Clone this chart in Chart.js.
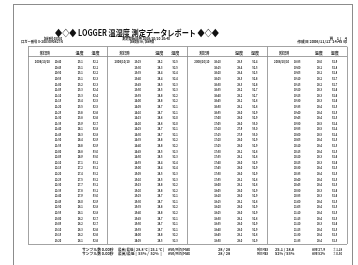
<!DOCTYPE html>
<html>
<head>
<meta charset="utf-8">
<script src="https://cdn.jsdelivr.net/npm/chart.js@4"></script>
<style>
  html, body { margin: 0; padding: 0; background: #fff; }
  #page { position: absolute; left: 0; top: 0; width: 358px; height: 265px; }
  #frame { position: absolute; left: 13px; top: 4px; width: 338px; height: 270px;
           border: 1px solid #8c8c8c; border-bottom: none; }
  canvas { position: absolute; left: 0; top: 0; }
</style>
</head>
<body>
<div id="page">
  <div id="frame"></div>
  <canvas id="report" width="358" height="265"></canvas>
</div>
<script>
// report data (one block of 33 readings per table column group)
var dateLabel = "2006/10/10";
var headerLabels = ["測定日時", "温度", "湿度"];

var times1 = ["10:40","10:45","10:50","10:55","11:00","11:05","11:10","11:15","11:20","11:25","11:30","11:35","11:40","11:45","11:50","11:55","12:00","12:05","12:10","12:15","12:20","12:25","12:30","12:35","12:40","12:45","12:50","12:55","13:00","13:05","13:10","13:15","13:20"];
var times2 = ["13:25","13:30","13:35","13:40","13:45","13:50","13:55","14:00","14:05","14:10","14:15","14:20","14:25","14:30","14:35","14:40","14:45","14:50","14:55","15:00","15:05","15:10","15:15","15:20","15:25","15:30","15:35","15:40","15:45","15:50","15:55","16:00","16:05"];
var times3 = ["16:10","16:15","16:20","16:25","16:30","16:35","16:40","16:45","16:50","16:55","17:00","17:05","17:10","17:15","17:20","17:25","17:30","17:35","17:40","17:45","17:50","17:55","18:00","18:05","18:10","18:15","18:20","18:25","18:30","18:35","18:40","18:45","18:50"];
var times4 = ["18:55","19:00","19:05","19:10","19:15","19:20","19:25","19:30","19:35","19:40","19:45","19:50","19:55","20:00","20:05","20:10","20:15","20:20","20:25","20:30","20:35","20:40","20:45","20:50","20:55","21:00","21:05","21:10","21:15","21:20","21:25","21:30","21:35"];

var temp1 = [25.1,25.1,25.1,25.1,25.2,25.3,25.3,25.4,25.5,25.6,25.8,25.9,26.1,26.3,26.4,26.6,26.8,26.9,27.1,27.2,27.4,27.5,27.7,27.8,27.9,28.0,28.1,28.1,28.2,28.2,28.3,28.2,28.1];
var temp2 = [28.2,28.3,28.4,28.4,28.5,28.5,28.6,28.6,28.7,28.7,28.8,28.8,28.7,28.7,28.6,28.6,28.5,28.5,28.4,28.4,28.5,28.5,28.6,28.6,28.7,28.7,28.6,28.6,28.7,28.7,28.7,28.6,28.5];
var temp3 = [28.5,28.4,28.4,28.3,28.3,28.2,28.2,28.1,28.1,28.0,28.0,28.0,27.9,27.9,28.0,28.0,28.1,28.1,28.0,28.0,28.0,28.1,28.1,28.0,28.0,28.1,28.0,28.0,28.1,28.0,28.0,28.1,28.0];
var temp4 = [28.0,28.1,28.1,28.2,28.2,28.3,28.3,28.3,28.4,28.4,28.4,28.5,28.5,28.5,28.4,28.4,28.4,28.3,28.3,28.4,28.4,28.4,28.4,28.3,28.3,28.4,28.4,28.4,28.4,28.3,28.4,28.4,28.4];

var hum1 = [52.1,52.1,52.2,52.3,52.3,52.4,52.4,52.5,52.5,52.6,52.6,52.7,52.8,52.8,52.9,52.9,53.0,53.0,53.1,53.1,53.2,53.2,53.1,53.1,53.0,52.9,52.8,52.8,52.7,52.7,52.6,52.6,52.6];
var hum2 = [52.5,52.5,52.4,52.4,52.3,52.3,52.2,52.2,52.1,52.1,52.0,52.0,52.1,52.1,52.2,52.2,52.3,52.3,52.4,52.4,52.3,52.3,52.2,52.2,52.1,52.1,52.2,52.2,52.1,52.1,52.1,52.2,52.3];
var hum3 = [52.4,52.5,52.5,52.6,52.6,52.7,52.7,52.8,52.8,52.9,52.9,53.0,53.0,53.0,52.9,52.9,52.8,52.8,52.9,52.9,52.9,52.8,52.8,52.9,52.9,52.8,52.9,52.9,52.8,52.9,52.9,52.8,52.9];
var hum4 = [52.9,52.8,52.8,52.7,52.7,52.6,52.6,52.6,52.5,52.5,52.5,52.4,52.4,52.4,52.5,52.5,52.5,52.6,52.6,52.5,52.5,52.5,52.5,52.6,52.6,52.5,52.5,52.5,52.5,52.6,52.5,52.5,52.5];

var titleText = "◆◇◆ LOGGER 温湿度 測定データレポート ◆◇◆";
var infoLeft = ["記録番号 000000", "ロガー番号 X-2003090827N"];
var infoMid = ["測定開始日時 2006/10/10 10:40", "記録間隔 5分 / 記録時間"];
var infoRight = ["頁    1 /    4", "作成日 2006/11/12  14:45 印"];
var footer1 = ["サンプル数 0.00秒", "最高/最低 | 28.8 ℃ | 25.1 ℃ |", "Ave/Min/Max", "28 / 28", "Min Max", "25.1 / 28.8", "Ave 27.9", "± 1.18"];
var footer2 = ["サンプル数 0.00秒", "最高/最低 |  53% /  52%  |", "Ave/Min/Max", "28 / 28", "Min Max", "52% / 53%", "Ave 52%", "± 0.30"];

var times = [times1, times2, times3, times4];
var temps = [temp1, temp2, temp3, temp4];
var hums = [hum1, hum2, hum3, hum4];

// column position inside a group (in group units)
var colOffset = { date: 0.18, time: 0.375, temp: 0.655, hum: 0.845 };
var headOffset = [0.21, 0.645, 0.845];
var headRow = -1.55;

function build_datasets() {
    var datasets = [];
    for (let g = 0; g < 4; g++) {
        var timePts = [], tempPts = [], humPts = [];
        var timeTxt = [], tempTxt = [], humTxt = [];
        for (let r = 0; r < times[g].length; r++) {
            timePts.push({ x: g + colOffset.time, y: r });
            tempPts.push({ x: g + colOffset.temp, y: r });
            humPts.push({ x: g + colOffset.hum, y: r });
            timeTxt.push(times[g][r]);
            tempTxt.push(temps[g][r].toFixed(1));
            humTxt.push(hums[g][r].toFixed(1));
        }
        datasets.push({ data: [{ x: g + colOffset.date, y: 0 }], cellText: [dateLabel], maxW: 15 });
        datasets.push({ data: timePts, cellText: timeTxt, maxW: 6.5 });
        datasets.push({ data: tempPts, cellText: tempTxt, maxW: 5.2 });
        datasets.push({ data: humPts, cellText: humTxt, maxW: 5.2 });
        // header row
        datasets.push({
            data: headOffset.map(o => ({ x: g + o, y: headRow })),
            cellText: headerLabels, maxW: 10
        });
    }
    datasets.forEach(ds => { ds.pointRadius = 0; ds.showLine = false; });
    return datasets;
}

const cellTextPlugin = {
    id: "cellText",
    afterDatasetsDraw(chart) {
        var ctx = chart.ctx;
        ctx.save();
        ctx.fillStyle = "#2a2a2a";
        ctx.textAlign = "center";
        ctx.textBaseline = "middle";
        ctx.font = 'bold 4px "Noto Sans CJK JP"';
        chart.data.datasets.forEach((ds, i) => {
            var meta = chart.getDatasetMeta(i);
            meta.data.forEach((pt, j) => {
                ctx.fillText(ds.cellText[j], pt.x, pt.y, ds.maxW);
            });
        });
        ctx.restore();
    }
};

const pageTextPlugin = {
    id: "pageText",
    afterDraw(chart) {
        var ctx = chart.ctx;
        ctx.save();
        ctx.fillStyle = "#111";
        ctx.textBaseline = "middle";
        ctx.textAlign = "left";
        ctx.font = 'bold 8.5px "Noto Sans CJK JP"';
        ctx.fillText(titleText, 55, 33, 164);

        ctx.fillStyle = "#2a2a2a";
        ctx.font = 'bold 3.8px "Noto Sans CJK JP"';
        ctx.textAlign = "right";
        ctx.fillText(infoLeft[0], 62, 38.5, 18);
        ctx.fillText(infoLeft[1], 63, 41.8, 42);
        ctx.textAlign = "left";
        ctx.fillText(infoMid[0], 122, 38.5, 48);
        ctx.fillText(infoMid[1], 130, 41.8, 24);
        ctx.textAlign = "right";
        ctx.fillText(infoRight[0], 347, 38.5, 42);
        ctx.fillText(infoRight[1], 347, 41.8, 52);

        ctx.textAlign = "left";
        var fx = [82, 118, 168, 218, 257, 275, 312, 333];
        var fw = [32, 46, 22, 14, 11, 30, 13, 9];
        for (let k = 0; k < fx.length; k++) {
            ctx.fillText(footer1[k], fx[k], 250, fw[k]);
            ctx.fillText(footer2[k], fx[k], 253.6, fw[k]);
        }
        ctx.restore();
    }
};

function init_report(container_name) {
    var ctx = document.getElementById(container_name).getContext("2d");
    const config = {
        type: "scatter",
        data: { datasets: build_datasets() },
        options: {
            responsive: false,
            animation: false,
            devicePixelRatio: 1,
            events: [],
            layout: {
                padding: { left: 28, right: 11, top: 46.7, bottom: 20.7 }
            },
            plugins: {
                legend: { display: false },
                tooltip: { enabled: false },
                title: { display: false }
            },
            scales: {
                x: {
                    type: "linear",
                    min: 0,
                    max: 4,
                    ticks: { display: false, stepSize: 1 },
                    grid: { color: "#8c8c8c", lineWidth: 0.8, drawTicks: false },
                    border: { display: false }
                },
                y: {
                    type: "linear",
                    reverse: true,
                    min: -2.7,
                    max: 32.7,
                    afterBuildTicks: function (scale) {
                        // table top, header rule, table bottom
                        scale.ticks = [{ value: -2.7 }, { value: -0.9 }, { value: 32.7 }];
                    },
                    ticks: { display: false },
                    grid: { color: "#8c8c8c", lineWidth: 0.8, drawTicks: false },
                    border: { display: false }
                }
            }
        },
        plugins: [cellTextPlugin, pageTextPlugin]
    };
    var myChart = new Chart(ctx, config);
    return myChart;
}

init_report("report");
</script>
</body>
</html>
